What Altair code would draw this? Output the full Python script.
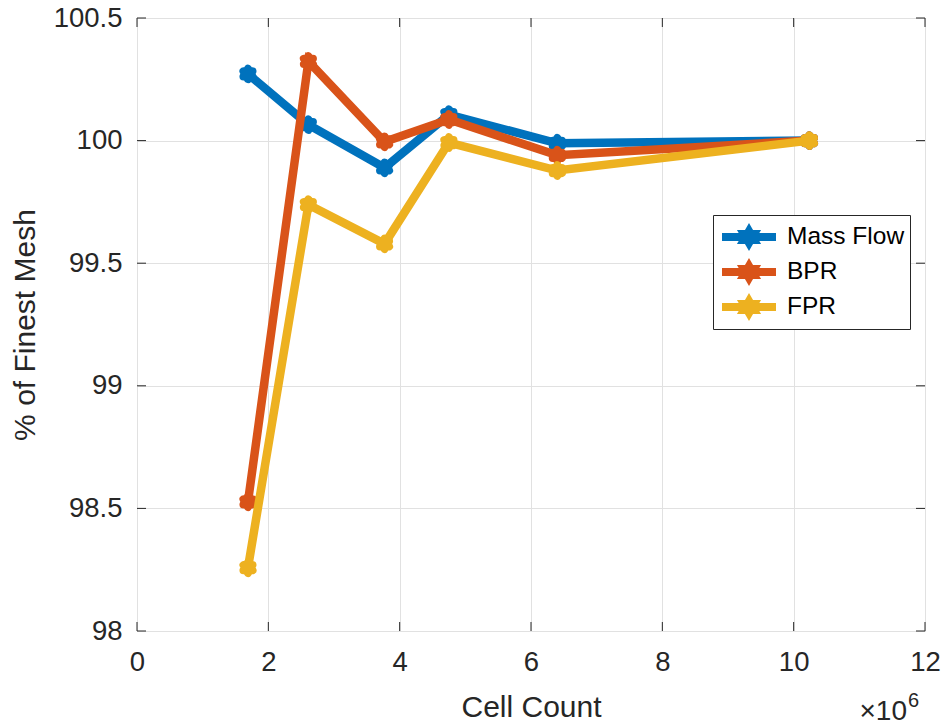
import altair as alt
import pandas as pd

# ---- data (cell count in millions) ----
series_names = ["Mass Flow", "BPR", "FPR"]
series_colors = ["#0072BD", "#D95319", "#EDB120"]
cell_count = [1.69, 2.61, 3.77, 4.75, 6.40, 10.24]
mass_flow = [100.272, 100.065, 99.889, 100.106, 99.989, 100.0]
bpr = [98.527, 100.323, 99.995, 100.086, 99.940, 100.0]
fpr = [98.258, 99.739, 99.579, 99.992, 99.878, 100.0]
x_ticks = [0, 2, 4, 6, 8, 10, 12]
y_ticks = [98, 98.5, 99, 99.5, 100, 100.5]

rows = []
for name, vals in zip(series_names, [mass_flow, bpr, fpr]):
    for c, v in zip(cell_count, vals):
        rows.append({"cells": c, "pct": v, "series": name})
df = pd.DataFrame(rows)

W, H = 788, 613
FONT = "Liberation Sans"
AX = "#262626"

hexagram = "M0,-1L0.866,0.5L-0.866,0.5Z M0,1L-0.866,-0.5L0.866,-0.5Z"
legend_sym = ("M-1,0L1,0 M0,-0.22L0.19,0.11L-0.19,0.11Z "
              "M0,0.22L-0.19,-0.11L0.19,-0.11Z")

color_scale = alt.Scale(domain=series_names, range=series_colors)
x_scale = alt.Scale(domain=[0, 12], nice=False)
y_scale = alt.Scale(domain=[98, 100.5], nice=False)

x_axis = alt.Axis(values=x_ticks, format="d", title="Cell Count", grid=True,
                  gridColor="#e1e1e1", ticks=False, domain=False, labelFontSize=27.5,
                  labelFont=FONT, labelColor=AX, labelPadding=17, labelFlush=False,
                  labelOverlap=False, titleFontSize=30,
                  titleFont=FONT, titleFontWeight="normal", titleColor=AX, titleY=61,
                  titleBaseline="top")
y_axis = alt.Axis(values=y_ticks, format="~f", title="% of Finest Mesh", grid=True,
                  gridColor="#e1e1e1", ticks=False, domain=False, labelFontSize=27.5,
                  labelFont=FONT, labelColor=AX, labelPadding=15, labelFlush=False,
                  labelOverlap=False, titleFontSize=30,
                  titleFont=FONT, titleFontWeight="normal", titleColor=AX,
                  titleX=-112, titleY=H / 2, titleBaseline="middle")

base = alt.Chart(df)
layers = []
for i, name in enumerate(series_names):
    sub = base.transform_filter(alt.datum.series == name)
    leg = None
    if i == 0:
        leg = alt.Legend(title=None, orient="none", legendX=576, legendY=197,
                         symbolType=legend_sym, symbolSize=2916, symbolStrokeWidth=8,
                         labelFontSize=24.5, labelFont=FONT, labelColor="#000000",
                         labelOffset=7, padding=5, rowPadding=1, clipHeight=34,
                         strokeColor=AX, fillColor="white", cornerRadius=0)
    line = sub.mark_line(strokeWidth=8.5, strokeJoin="miter").encode(
        x=alt.X("cells:Q", scale=x_scale, axis=x_axis),
        y=alt.Y("pct:Q", scale=y_scale, axis=y_axis),
        color=alt.Color("series:N", scale=color_scale, legend=leg),
    )
    pts = sub.mark_point(shape=hexagram, size=110, filled=True, opacity=1,
                         strokeWidth=8, strokeJoin="round").encode(
        x=alt.X("cells:Q", scale=x_scale),
        y=alt.Y("pct:Q", scale=y_scale),
        color=alt.Color("series:N", scale=color_scale, legend=None),
        stroke=alt.Color("series:N", scale=color_scale, legend=None),
    )
    layers += [line, pts]

# inward tick marks on all four sides of the box
xt = pd.DataFrame({"v": x_ticks})
yt = pd.DataFrame({"v": y_ticks})
tick_style = dict(color=AX, strokeWidth=1)
xb = alt.Chart(xt).mark_rule(**tick_style).encode(
    x=alt.X("v:Q", scale=x_scale), y=alt.value(H), y2=alt.value(H - 9))
xtp = alt.Chart(xt).mark_rule(**tick_style).encode(
    x=alt.X("v:Q", scale=x_scale), y=alt.value(0), y2=alt.value(9))
yl = alt.Chart(yt).mark_rule(**tick_style).encode(
    y=alt.Y("v:Q", scale=y_scale), x=alt.value(0), x2=alt.value(9))
yr = alt.Chart(yt).mark_rule(**tick_style).encode(
    y=alt.Y("v:Q", scale=y_scale), x=alt.value(W), x2=alt.value(W - 9))

# x10^6 exponent annotation
exp_df = pd.DataFrame({"t": ["\u00d710"], "s": ["6"]})
mult = alt.Chart(exp_df).mark_text(fontSize=28, font=FONT, color=AX, align="right",
                                   baseline="alphabetic").encode(
    text="t:N", x=alt.value(770), y=alt.value(702))
sup = alt.Chart(exp_df).mark_text(fontSize=20, font=FONT, color=AX, align="left",
                                  baseline="alphabetic").encode(
    text="s:N", x=alt.value(771), y=alt.value(689))

chart = alt.layer(*layers, xb, xtp, yl, yr, mult, sup).properties(
    width=W, height=H,
    padding={"left": 137, "top": 18, "right": 20, "bottom": 95},
    autosize=alt.AutoSizeParams(type="none"),
).configure_view(stroke=AX, strokeWidth=1.2).configure(background="white")

chart.save("out.html", embed_options={"renderer": "svg", "actions": False})
